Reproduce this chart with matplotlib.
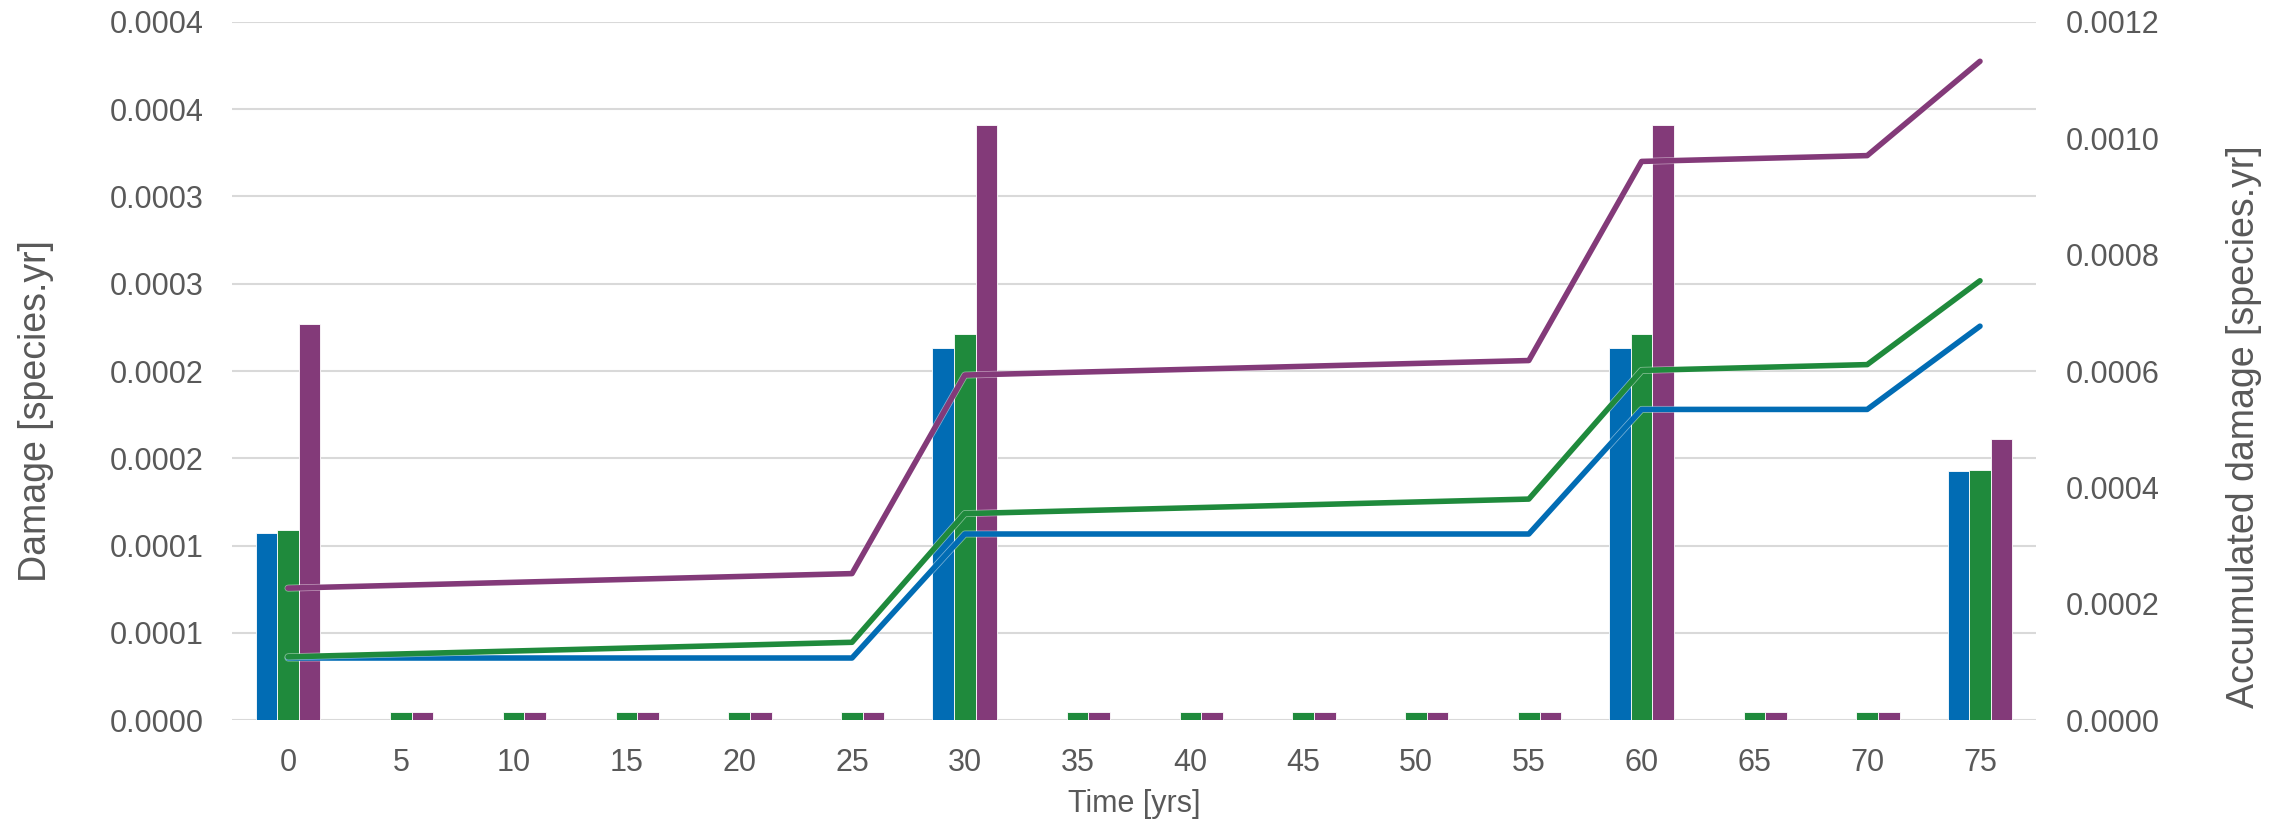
import matplotlib
matplotlib.use("Agg")
import matplotlib.pyplot as plt
import matplotlib.patheffects as pe
import numpy as np

plt.rcParams['font.family'] = ['Liberation Sans', 'DejaVu Sans']

# ---------------- data ----------------
years = [0, 5, 10, 15, 20, 25, 30, 35, 40, 45, 50, 55, 60, 65, 70, 75]

blue_bars = [1.071e-4, 0, 0, 0, 0, 0, 2.131e-4, 0, 0, 0, 0, 0, 2.131e-4, 0, 0, 1.425e-4]
green_bars = [1.090e-4, 5e-6, 5e-6, 5e-6, 5e-6, 5e-6, 2.209e-4, 5e-6, 5e-6, 5e-6, 5e-6, 5e-6,
              2.209e-4, 5e-6, 5e-6, 1.433e-4]
purple_bars = [2.269e-4, 5e-6, 5e-6, 5e-6, 5e-6, 5e-6, 3.409e-4, 5e-6, 5e-6, 5e-6, 5e-6, 5e-6,
               3.409e-4, 5e-6, 5e-6, 1.608e-4]

blue_acc = [1.07e-4, 1.07e-4, 1.07e-4, 1.07e-4, 1.07e-4, 1.07e-4, 3.20e-4, 3.20e-4, 3.20e-4,
            3.20e-4, 3.20e-4, 3.20e-4, 5.34e-4, 5.34e-4, 5.34e-4, 6.77e-4]
green_acc = [1.09e-4, 1.14e-4, 1.19e-4, 1.24e-4, 1.29e-4, 1.34e-4, 3.55e-4, 3.60e-4, 3.65e-4,
             3.70e-4, 3.75e-4, 3.80e-4, 6.01e-4, 6.06e-4, 6.11e-4, 7.55e-4]
purple_acc = [2.27e-4, 2.32e-4, 2.37e-4, 2.42e-4, 2.47e-4, 2.52e-4, 5.93e-4, 5.98e-4, 6.03e-4,
              6.08e-4, 6.13e-4, 6.18e-4, 9.60e-4, 9.65e-4, 9.70e-4, 11.32e-4]

left_ticks = [0, 0.00005, 0.0001, 0.00015, 0.0002, 0.00025, 0.0003, 0.00035, 0.0004]
left_tick_labels = ["0.0000", "0.0001", "0.0001", "0.0002", "0.0002", "0.0003", "0.0003",
                    "0.0004", "0.0004"]
right_ticks = [0, 0.0002, 0.0004, 0.0006, 0.0008, 0.0010, 0.0012]
right_tick_labels = ["0.0000", "0.0002", "0.0004", "0.0006", "0.0008", "0.0010", "0.0012"]

colors = ["#016CB4", "#1F8A3C", "#833A79"]
text_color = "#595959"
grid_color = "#D9D9D9"

# ---------------- figure ----------------
W, H = 2285, 823
fig = plt.figure(figsize=(W / 100, H / 100), dpi=100)
ax = fig.add_axes([231.6 / W, 102.7 / H, (2036.4 - 231.6) / W, (720.3 - 21.7) / H])
ax2 = ax.twinx()

x = np.arange(len(years))
bw = 0.192
for i, (vals, c) in enumerate(zip([blue_bars, green_bars, purple_bars], colors)):
    ax.bar(x + (i - 1) * bw, vals, width=bw, color=c, edgecolor="#ffffff",
           linewidth=0.6, zorder=2)

ax.set_xlim(-0.5, len(years) - 0.5)
ax.set_ylim(0, 0.0004)
ax.set_yticks(left_ticks)
ax.set_yticklabels(left_tick_labels)
ax.set_xticks(x)
ax.set_xticklabels([str(y) for y in years])
ax.yaxis.grid(True, color=grid_color, linewidth=1.5, zorder=0)
ax.set_axisbelow(True)

for vals, c in zip([blue_acc, green_acc, purple_acc], colors):
    ax2.plot(x, vals, color=c, linewidth=4, solid_capstyle="round", solid_joinstyle="round",
             zorder=3,
             path_effects=[pe.Stroke(linewidth=5, foreground="white", alpha=0.5), pe.Normal()])
ax2.set_ylim(0, 0.0012)
ax2.set_yticks(right_ticks)
ax2.set_yticklabels(right_tick_labels)

for a in (ax, ax2):
    for s in a.spines.values():
        s.set_visible(False)
    a.tick_params(length=0, labelsize=22, colors=text_color)

ax.tick_params(axis="y", pad=20)
ax.tick_params(axis="x", pad=20)
ax2.tick_params(axis="y", pad=21)

ax.set_xlabel("Time [yrs]", fontsize=22, color=text_color, labelpad=8)
ax.set_ylabel("Damage [species.yr]", fontsize=27, color=text_color, labelpad=40)
ax2.set_ylabel("Accumulated damage [species.yr]", fontsize=27, color=text_color,
               labelpad=48)
ax.yaxis.label.set_y(0.442)
ax2.yaxis.label.set_y(0.421)

fig.savefig("out.png", dpi=100)
